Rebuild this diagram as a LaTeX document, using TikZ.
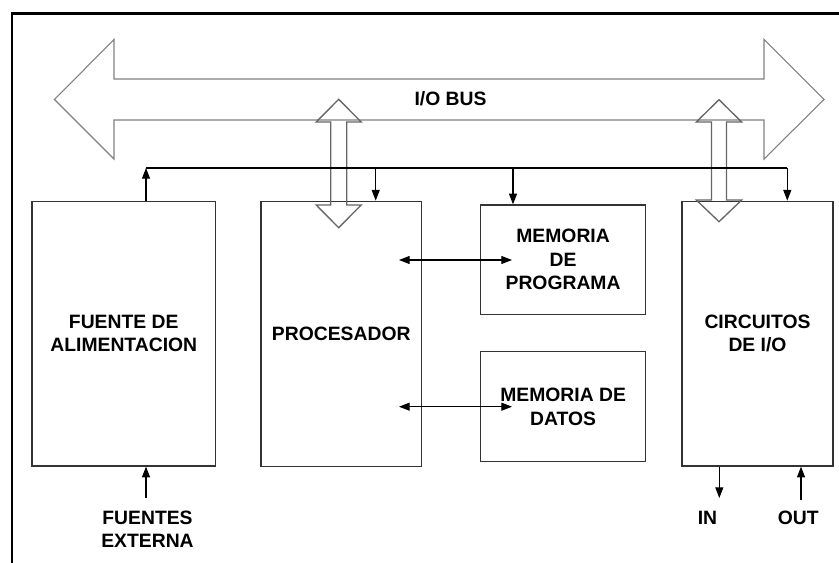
\documentclass[tikz,border=0pt]{standalone}
\usepackage{fontspec}
\setmainfont{Liberation Sans}
\usetikzlibrary{arrows.meta}

\tikzset{
  blk/.style={draw=black!80, line width=1pt, align=center, inner sep=0pt},
  sig/.style={-{Triangle[length=8pt,width=6pt]}, line width=0.8pt},
  sigboth/.style={{Triangle[length=8pt,width=6pt]}-{Triangle[length=8pt,width=6pt]}, line width=0.8pt},
  busline/.style={draw=gray, line width=0.8pt, line join=miter},
  portline/.style={draw=black!60, line width=1pt, line join=miter}
}

\begin{document}
\begin{tikzpicture}[x=0.75pt, y=-0.75pt, font=\bfseries\fontsize{14.5}{17.5}\selectfont]
  \useasboundingbox (0,0) rectangle (839,563);
  % frame
  \draw[line width=1.9pt] (12,563) -- (12,13.3) -- (839,13.3);

  % I/O bus
  \draw[busline] (54.5,99.5) -- (114,39.5) -- (114,79) -- (764,79) -- (764,39.5)
    -- (824,99.5) -- (764,159) -- (764,120) -- (114,120) -- (114,159) -- cycle;
  \node (bus) at (450.5,98.3) {I/O BUS};

  % blocks
  \node[blk, minimum width=137.6pt, minimum height=198.5pt] (fuente) at (123.75,333.65) {FUENTE DE\\ALIMENTACION};
  \node[blk, minimum width=120.4pt, minimum height=198.9pt] (proc) at (341.25,333.9) {PROCESADOR};
  \node[blk, minimum width=123.9pt, minimum height=82pt] (memprog) at (563.1,259.65) {MEMORIA\\DE\\PROGRAMA};
  \node[blk, minimum width=123.9pt, minimum height=82.5pt] (memdat) at (563.1,406.7) {MEMORIA DE\\DATOS};
  \node[blk, minimum width=113.25pt, minimum height=198.5pt] (circ) at (757.5,333.65) {CIRCUITOS\\DE I/O};

  % bus ports
  \draw[portline] (338.7,99.3) -- (361.2,122) -- (346.7,122) -- (346.7,205) -- (361.2,205)
    -- (338.7,227.7) -- (316.2,205) -- (330.7,205) -- (330.7,122) -- (316.2,122) -- cycle;
  \draw[portline] (719,99.7) -- (741.7,122) -- (726.5,122) -- (726.5,200) -- (741.7,200)
    -- (719,221.7) -- (696.3,200) -- (711.5,200) -- (711.5,122) -- (696.3,122) -- cycle;

  % control line
  \coordinate (ctlL) at (146,168);
  \coordinate (ctlP) at (375.7,168);
  \coordinate (ctlM) at (513,168);
  \coordinate (ctlR) at (787.3,168);
  \draw[line width=0.8pt] (ctlL) -- (ctlR);
  \draw[sig] (ctlL |- fuente.north) -- (ctlL);
  \draw[sig] (ctlP) -- (ctlP |- proc.north);
  \draw[sig] (ctlM) -- (ctlM |- memprog.north);
  \draw[sig] (ctlR) -- (ctlR |- circ.north);

  % processor <-> memories
  \coordinate (pm1) at (399,260);
  \coordinate (pm2) at (512,260);
  \coordinate (pd1) at (399,406.7);
  \coordinate (pd2) at (512,406.7);
  \draw[sigboth] (pm1) -- (pm2);
  \draw[sigboth] (pd1) -- (pd2);

  % external
  \node[align=center] (ext) at (147.5,529) {FUENTES\\EXTERNA};
  \node (in) at (707.5,518) {IN};
  \node (out) at (798.3,518) {OUT};
  \coordinate (extTop) at (146,498);
  \coordinate (inEnd) at (719.3,498);
  \coordinate (outEnd) at (801,500);
  \draw[sig] (extTop) -- (extTop |- fuente.south);
  \draw[sig] (inEnd |- circ.south) -- (inEnd);
  \draw[sig] (outEnd) -- (outEnd |- circ.south);
\end{tikzpicture}
\end{document}
